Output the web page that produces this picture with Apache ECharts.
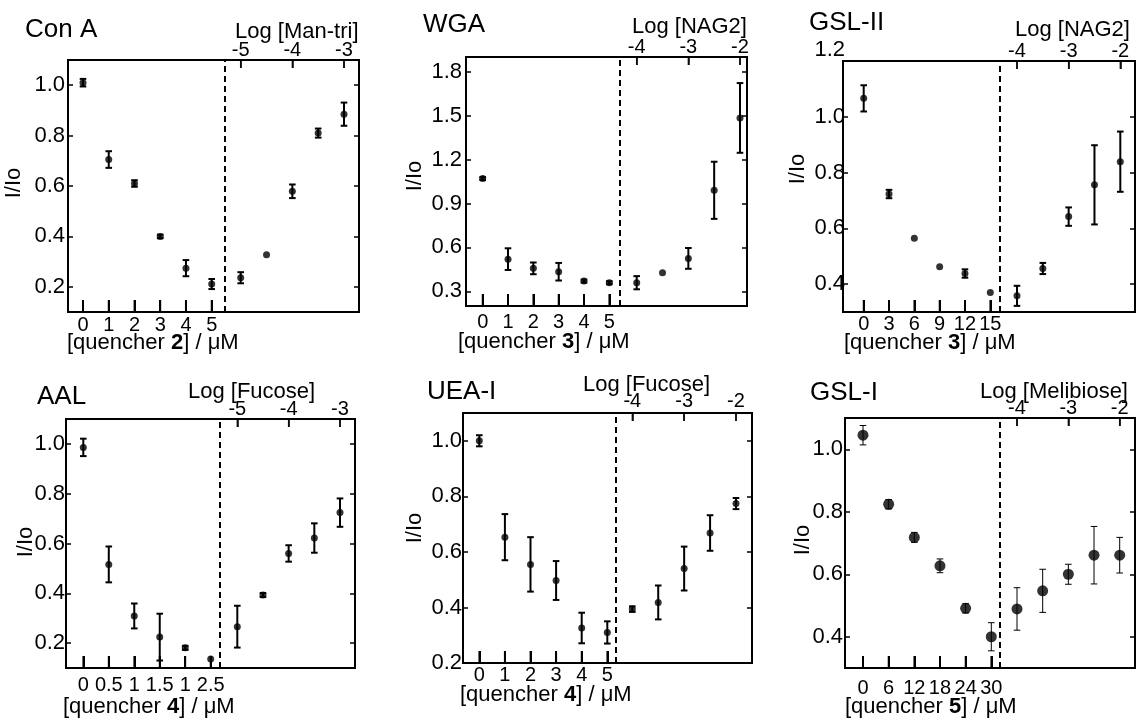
<!DOCTYPE html>
<html>
<head>
<meta charset="utf-8">
<script src="https://cdn.jsdelivr.net/npm/echarts@6/dist/echarts.min.js"></script>
<style>
  html, body { margin: 0; padding: 0; background: #fff; }
  #chart { width: 1137px; height: 718px; }
</style>
</head>
<body>
<div id="chart"></div>
<script>
// ---- Con A: quencher 2, then Man-tri recovery ----
const conA_conc = [0, 1, 2, 3, 4, 5];
const conA_quench = [1.01, 0.705, 0.61, 0.40, 0.274, 0.211];
const conA_quenchErr = [0.015, 0.033, 0.013, 0.007, 0.032, 0.02];
const conA_log = [-5, -4.5, -4, -3.5, -3];
const conA_recover = [0.236, 0.327, 0.579, 0.81, 0.885];
const conA_recoverErr = [0.022, 0, 0.027, 0.018, 0.046];
const conA_concLabels = ['0', '1', '2', '3', '4', '5'];
const conA_logTicks = [-5, -4, -3];
const conA_yTicks = [0.2, 0.4, 0.6, 0.8, 1.0];

// ---- WGA: quencher 3, then NAG2 recovery ----
const wga_conc = [0, 1, 2, 3, 4, 5];
const wga_quench = [1.07, 0.52, 0.457, 0.434, 0.37, 0.359];
const wga_quenchErr = [0.01, 0.074, 0.04, 0.06, 0.01, 0.01];
const wga_log = [-4, -3.5, -3, -2.5, -2];
const wga_recover = [0.359, 0.427, 0.525, 0.99, 1.484];
const wga_recoverErr = [0.045, 0, 0.071, 0.195, 0.238];
const wga_concLabels = ['0', '1', '2', '3', '4', '5'];
const wga_logTicks = [-4, -3, -2];
const wga_yTicks = [0.3, 0.6, 0.9, 1.2, 1.5, 1.8];

// ---- GSL-II: quencher 3, then NAG2 recovery ----
const gsl2_conc = [0, 3, 6, 9, 12, 15];
const gsl2_quench = [1.066, 0.723, 0.564, 0.462, 0.438, 0.37];
const gsl2_quenchErr = [0.047, 0.015, 0, 0, 0.015, 0];
const gsl2_log = [-4, -3.5, -3, -2.5, -2];
const gsl2_recover = [0.358, 0.456, 0.642, 0.756, 0.839];
const gsl2_recoverErr = [0.036, 0.02, 0.033, 0.142, 0.108];
const gsl2_concLabels = ['0', '3', '6', '9', '12', '15'];
const gsl2_logTicks = [-4, -3, -2];
const gsl2_yTicks = [0.4, 0.6, 0.8, 1.0, 1.2];

// ---- AAL: quencher 4, then fucose recovery ----
const aal_conc = [0, 0.5, 1, 1.5, 2, 2.5];
const aal_quench = [0.986, 0.516, 0.309, 0.224, 0.181, 0.136];
const aal_quenchErr = [0.035, 0.072, 0.05, 0.094, 0.008, 0];
const aal_log = [-5, -4.5, -4, -3.5, -3];
const aal_recover = [0.266, 0.393, 0.56, 0.622, 0.724];
const aal_recoverErr = [0.084, 0.008, 0.033, 0.059, 0.057];
const aal_concLabels = ['0', '0.5', '1', '1.5', '1', '2.5'];
const aal_logTicks = [-5, -4, -3];
const aal_yTicks = [0.2, 0.4, 0.6, 0.8, 1.0];

// ---- UEA-I: quencher 4, then fucose recovery ----
const uea_conc = [0, 1, 2, 3, 4, 5];
const uea_quench = [1.0, 0.653, 0.555, 0.497, 0.326, 0.31];
const uea_quenchErr = [0.02, 0.083, 0.098, 0.07, 0.055, 0.04];
const uea_log = [-4, -3.5, -3, -2.5, -2];
const uea_recover = [0.394, 0.418, 0.54, 0.668, 0.774];
const uea_recoverErr = [0.01, 0.061, 0.079, 0.064, 0.02];
const uea_concLabels = ['0', '1', '2', '3', '4', '5'];
const uea_logTicks = [-4, -3, -2];
const uea_yTicks = [0.2, 0.4, 0.6, 0.8, 1.0];

// ---- GSL-I: quencher 5, then melibiose recovery ----
const gsl1_conc = [0, 6, 12, 18, 24, 30];
const gsl1_quench = [1.045, 0.824, 0.718, 0.627, 0.491, 0.40];
const gsl1_quenchErr = [0.031, 0.015, 0.016, 0.022, 0.015, 0.045];
const gsl1_log = [-4, -3.5, -3, -2.5, -2];
const gsl1_recover = [0.489, 0.547, 0.6, 0.661, 0.661];
const gsl1_recoverErr = [0.068, 0.069, 0.032, 0.092, 0.057];
const gsl1_concLabels = ['0', '6', '12', '18', '24', '30'];
const gsl1_logTicks = [-4, -3, -2];
const gsl1_yTicks = [0.4, 0.6, 0.8, 1.0];

const FONT = '"Liberation Sans", Arial, Helvetica, sans-serif';

// Panel content plus its page layout (frame box in px, tick anchor pixels, label offsets)
const panels = [
  { title: 'Con A', quencher: '2', topName: 'Log [Man-tri]',
    conc: conA_conc, quench: conA_quench, quenchErr: conA_quenchErr,
    log: conA_log, recover: conA_recover, recoverErr: conA_recoverErr,
    concLabels: conA_concLabels, logTicks: conA_logTicks, yTicks: conA_yTicks,
    yRange: [0.1, 1.1], divider: 5.5,
    frame: [68, 60, 359, 312], botPx: [83, 211.7], topPx: [240.7, 344],
    yLabelMargin: 3, botLabelMargin: 3, topLabelMargin: 0,
    titlePos: [25, 30], topNamePos: [235, 31.7], yNamePos: [14, 183], botNamePos: [67, 343],
    marker: 7, errWidth: 2 },
  { title: 'WGA', quencher: '3', topName: 'Log [NAG2]',
    conc: wga_conc, quench: wga_quench, quenchErr: wga_quenchErr,
    log: wga_log, recover: wga_recover, recoverErr: wga_recoverErr,
    concLabels: wga_concLabels, logTicks: wga_logTicks, yTicks: wga_yTicks,
    yRange: [0.2, 1.9], divider: 5.4,
    frame: [466, 57, 747, 306], botPx: [482.7, 609.3], topPx: [636.7, 740],
    yLabelMargin: 4, botLabelMargin: 6, topLabelMargin: 0,
    titlePos: [423, 25], topNamePos: [632, 26.7], yNamePos: [415, 176], botNamePos: [458, 342],
    marker: 7, errWidth: 2 },
  { title: 'GSL-II', quencher: '3', topName: 'Log [NAG2]',
    conc: gsl2_conc, quench: gsl2_quench, quenchErr: gsl2_quenchErr,
    log: gsl2_log, recover: gsl2_recover, recoverErr: gsl2_recoverErr,
    concLabels: gsl2_concLabels, logTicks: gsl2_logTicks, yTicks: gsl2_yTicks,
    yRange: [0.3, 1.2], divider: 16.1, topYLabelUp: true,
    frame: [843, 61, 1135, 312], botPx: [863.7, 990.3], topPx: [1017, 1120.3],
    yLabelMargin: -2, botLabelMargin: 2, topLabelMargin: 0,
    titlePos: [809, 23], topNamePos: [1015, 30], yNamePos: [797.5, 169], botNamePos: [844, 343],
    marker: 7, errWidth: 2 },
  { title: 'AAL', quencher: '4', topName: 'Log [Fucose]',
    conc: aal_conc, quench: aal_quench, quenchErr: aal_quenchErr,
    log: aal_log, recover: aal_recover, recoverErr: aal_recoverErr,
    concLabels: aal_concLabels, logTicks: aal_logTicks, yTicks: aal_yTicks,
    yRange: [0.1, 1.1], divider: 2.68,
    frame: [66, 419, 355, 668], botPx: [83.3, 210.7], topPx: [237.3, 340],
    yLabelMargin: 1, botLabelMargin: 7, topLabelMargin: 0,
    titlePos: [37, 397], topNamePos: [188, 391.7], yNamePos: [25.5, 542], botNamePos: [63, 707],
    marker: 7, errWidth: 2 },
  { title: 'UEA-I', quencher: '4', topName: 'Log [Fucose]',
    conc: uea_conc, quench: uea_quench, quenchErr: uea_quenchErr,
    log: uea_log, recover: uea_recover, recoverErr: uea_recoverErr,
    concLabels: uea_concLabels, logTicks: uea_logTicks, yTicks: uea_yTicks,
    yRange: [0.2, 1.1], divider: 5.33,
    frame: [463, 413, 752, 663], botPx: [479.3, 607.3], topPx: [632.3, 736],
    yLabelMargin: 1, botLabelMargin: 2, topLabelMargin: 2,
    titlePos: [427, 392], topNamePos: [583, 385], yNamePos: [415, 528], botNamePos: [460, 695],
    marker: 7, errWidth: 2 },
  { title: 'GSL-I', quencher: '5', topName: 'Log [Melibiose]',
    conc: gsl1_conc, quench: gsl1_quench, quenchErr: gsl1_quenchErr,
    log: gsl1_log, recover: gsl1_recover, recoverErr: gsl1_recoverErr,
    concLabels: gsl1_concLabels, logTicks: gsl1_logTicks, yTicks: gsl1_yTicks,
    yRange: [0.3, 1.1], divider: 32,
    frame: [845, 418, 1135, 668], botPx: [863, 991.3], topPx: [1017, 1119.7],
    yLabelMargin: 2, botLabelMargin: 10, topLabelMargin: 0,
    titlePos: [810, 393], topNamePos: [980, 391.7], yNamePos: [802.5, 540], botNamePos: [845, 707],
    marker: 11, errWidth: 1 }
];

// Axis extent so that the first/last tick values land on the given pixel anchors
function extentFor(x0, x1, p0, pN, v0, vN) {
  const scale = (pN - p0) / (vN - v0);
  return [v0 - (p0 - x0) / scale, v0 + (x1 - p0) / scale];
}

function seg(xa, ya, xb, yb, w) {
  return { type: 'line', shape: { x1: xa, y1: ya, x2: xb, y2: yb },
    style: { stroke: '#000', lineWidth: w } };
}

function errorBarRenderer(lineWidth) {
  return function (params, api) {
    const x = api.value(0), y = api.value(1), e = api.value(2);
    if (!e) return null;
    const lo = api.coord([x, y - e]);
    const hi = api.coord([x, y + e]);
    const cap = 3.3;
    return {
      type: 'group',
      children: [
        seg(lo[0], lo[1], hi[0], hi[1], lineWidth),
        seg(lo[0] - cap, lo[1], lo[0] + cap, lo[1], lineWidth),
        seg(hi[0] - cap, hi[1], hi[0] + cap, hi[1], lineWidth)
      ]
    };
  };
}

// Thin rectangle markers used as frame ticks, standing on an edge value of the y scale
function tickMarks(xIdx, yIdx, xs, yEdge, size, offset) {
  return {
    type: 'scatter', xAxisIndex: xIdx, yAxisIndex: yIdx,
    symbol: 'rect', symbolSize: size, symbolOffset: offset,
    itemStyle: { color: '#000' }, silent: true, clip: false, z: 6,
    data: xs.map((v) => [v, yEdge])
  };
}

const grid = [], xAxis = [], yAxis = [], series = [], graphic = [];

panels.forEach((p, i) => {
  const [x0, y0, x1, y1] = p.frame;
  grid.push({
    left: x0, top: y0, width: x1 - x0, height: y1 - y0,
    show: true, borderColor: '#000', borderWidth: 2, backgroundColor: 'transparent'
  });

  const botExt = extentFor(x0, x1, p.botPx[0], p.botPx[1], p.conc[0], p.conc[p.conc.length - 1]);
  const topExt = extentFor(x0, x1, p.topPx[0], p.topPx[1], p.logTicks[0], p.logTicks[p.logTicks.length - 1]);

  const concLabelFor = (v) => {
    let best = 0;
    p.conc.forEach((c, k) => { if (Math.abs(c - v) < Math.abs(p.conc[best] - v)) best = k; });
    return p.concLabels[best];
  };

  // bottom concentration axis
  xAxis.push({
    type: 'value', gridIndex: i, position: 'bottom',
    min: botExt[0], max: botExt[1],
    axisLine: { show: false, onZero: false }, splitLine: { show: false },
    axisTick: { show: true, inside: true, length: 12, customValues: p.conc,
      lineStyle: { color: '#000', width: 2 } },
    axisLabel: { show: true, customValues: p.conc, margin: p.botLabelMargin,
      formatter: concLabelFor, color: '#000', fontFamily: FONT, fontSize: 20 }
  });
  // top log-concentration axis
  xAxis.push({
    type: 'value', gridIndex: i, position: 'top',
    min: topExt[0], max: topExt[1],
    axisLine: { show: false, onZero: false }, splitLine: { show: false },
    axisTick: { show: true, inside: true, length: 8, customValues: p.logTicks,
      lineStyle: { color: '#000', width: 1.5 } },
    axisLabel: { show: true, customValues: p.logTicks, margin: p.topLabelMargin,
      formatter: (v) => String(v), color: '#000', fontFamily: FONT, fontSize: 20 }
  });

  // left I/Io axis with labels, right axis with ticks only
  yAxis.push({
    type: 'value', gridIndex: i, position: 'left',
    min: p.yRange[0], max: p.yRange[1],
    axisLine: { show: false, onZero: false }, splitLine: { show: false },
    axisTick: { show: true, inside: true, length: 5, customValues: p.yTicks,
      lineStyle: { color: '#000', width: 1.5 } },
    axisLabel: { show: true, customValues: p.yTicks, margin: p.yLabelMargin,
      verticalAlignMaxLabel: p.topYLabelUp ? 'bottom' : null,
      formatter: (v) => v.toFixed(1), color: '#000', fontFamily: FONT, fontSize: 22 }
  });
  yAxis.push({
    type: 'value', gridIndex: i, position: 'right',
    min: p.yRange[0], max: p.yRange[1],
    axisLine: { show: false, onZero: false }, splitLine: { show: false },
    axisTick: { show: true, inside: true, length: 5, customValues: p.yTicks,
      lineStyle: { color: '#000', width: 1.5 } },
    axisLabel: { show: false }
  });

  const bx = 2 * i, tx = 2 * i + 1, ly = 2 * i;

  // frame ticks on the concentration (bottom) and log (top) scales
  series.push(tickMarks(bx, ly, p.conc, p.yRange[0], [2, 12], [0, -6]));
  series.push(tickMarks(tx, ly, p.logTicks, p.yRange[1], [1.5, 8], [0, 4]));

  series.push({
    type: 'custom', xAxisIndex: bx, yAxisIndex: ly,
    renderItem: errorBarRenderer(p.errWidth),
    encode: { x: 0, y: 1 },
    data: p.conc.map((c, k) => [c, p.quench[k], p.quenchErr[k]]),
    silent: true, z: 2
  });
  series.push({
    type: 'custom', xAxisIndex: tx, yAxisIndex: ly,
    renderItem: errorBarRenderer(p.errWidth),
    encode: { x: 0, y: 1 },
    data: p.log.map((c, k) => [c, p.recover[k], p.recoverErr[k]]),
    silent: true, z: 2
  });
  series.push({
    type: 'scatter', xAxisIndex: bx, yAxisIndex: ly,
    symbol: 'circle', symbolSize: p.marker,
    itemStyle: { color: '#000' }, silent: true, z: 3,
    data: p.conc.map((c, k) => [c, p.quench[k]]),
    markLine: {
      silent: true, symbol: ['none', 'none'], label: { show: false },
      lineStyle: { color: '#000', type: [6, 4], width: 2 },
      data: [{ xAxis: p.divider }]
    }
  });
  series.push({
    type: 'scatter', xAxisIndex: tx, yAxisIndex: ly,
    symbol: 'circle', symbolSize: p.marker,
    itemStyle: { color: '#000' }, silent: true, z: 3,
    data: p.log.map((c, k) => [c, p.recover[k]])
  });

  // panel title, axis names
  graphic.push({
    type: 'text', x: p.titlePos[0], y: p.titlePos[1],
    style: { text: p.title, fill: '#000', font: '26px ' + FONT, textAlign: 'left', textVerticalAlign: 'middle' }
  });
  graphic.push({
    type: 'text', x: p.topNamePos[0], y: p.topNamePos[1],
    style: { text: p.topName, fill: '#000', font: '22px ' + FONT, textAlign: 'left', textVerticalAlign: 'middle' }
  });
  graphic.push({
    type: 'text', x: p.yNamePos[0], y: p.yNamePos[1], rotation: Math.PI / 2,
    style: { text: 'I/Io', fill: '#000', font: '22px ' + FONT, textAlign: 'center', textVerticalAlign: 'middle' }
  });
  graphic.push({
    type: 'text', x: p.botNamePos[0], y: p.botNamePos[1],
    style: {
      text: '{n|[quencher }{b|' + p.quencher + '}{n|] / μM}',
      textAlign: 'left', textVerticalAlign: 'middle',
      rich: {
        n: { fill: '#000', fontFamily: FONT, fontSize: 22 },
        b: { fill: '#000', fontFamily: FONT, fontSize: 22, fontWeight: 'bold' }
      }
    }
  });
});

const chart = echarts.init(document.getElementById('chart'), null, { renderer: 'canvas' });
chart.setOption({
  backgroundColor: '#fff',
  animation: false,
  grid: grid,
  xAxis: xAxis,
  yAxis: yAxis,
  series: series,
  graphic: graphic
});
</script>
</body>
</html>
